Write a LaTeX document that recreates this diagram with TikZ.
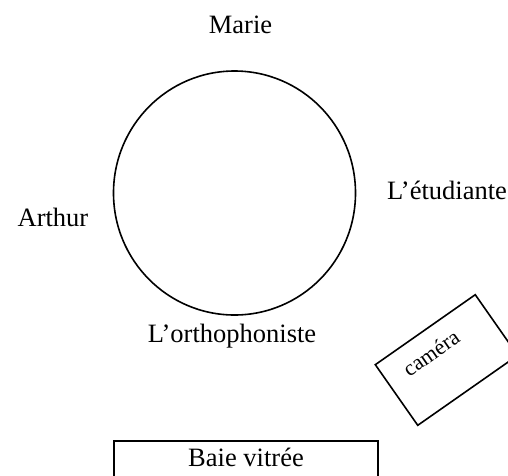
\documentclass[tikz,border=0pt]{standalone}
\usepackage{fontspec}
\setmainfont{Liberation Serif}
\begin{document}
\begin{tikzpicture}[x=1pt,y=-1pt,
  lbl/.style={font=\fontsize{26.5}{31}\selectfont, inner sep=0pt, anchor=base},
  ln/.style={draw=black, line width=1.6pt}]
\useasboundingbox (0,0) rectangle (508,475);
\begin{scope}
\clip (0,0) rectangle (508,475);
\draw[ln] (234.5,193) ellipse [x radius=121, y radius=122];
\node[lbl] (marie) at (240.5,33) {Marie};
\node[lbl] (arthur) at (53,226) {Arthur};
\node[lbl, anchor=base west] (etud) at (387,199) {L'étudiante};
\node[lbl] (ortho) at (232,342) {L'orthophoniste};
\node[ln, rotate=35, minimum width=122pt, minimum height=74pt, inner sep=0pt] (cambox) at (446.5,360) {};
\node[rotate=35, inner sep=0pt, font=\fontsize{22}{26}\selectfont] (cam) at (431,353) {caméra};
\draw[ln] (114,441) rectangle (378,490);
\node[lbl] (baie) at (246,466) {Baie vitrée};
\end{scope}
\end{tikzpicture}
\end{document}
